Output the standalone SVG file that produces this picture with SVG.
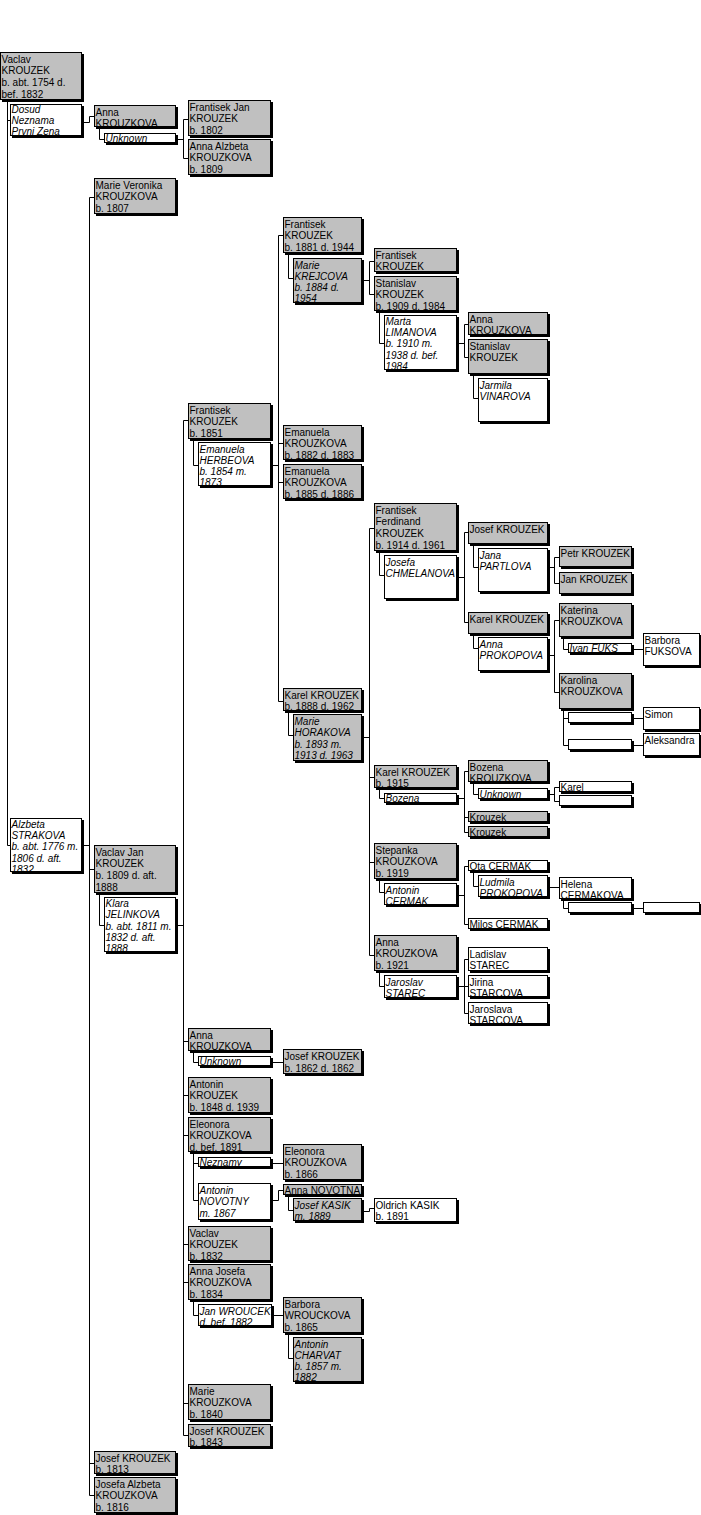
<svg xmlns="http://www.w3.org/2000/svg" width="701" height="1515" viewBox="0 0 701 1515">
<style>
rect.s{fill:#000}
rect.b{stroke:#000;stroke-width:1}
.g rect.b{fill:#c0c0c0}
.w rect.b{fill:#fff}
text{font-family:"Liberation Sans",Arial,sans-serif;font-size:10px;fill:#000}
.i text{font-style:italic}
.c{stroke:#000;stroke-width:1;fill:none}
</style>
<rect x="0" y="0" width="701" height="1515" fill="#fff"/>
<g id="connectors" class="c">
<path d="M7.5 100V845.5H10M7.5 120.5H10M83 122.5H89.5V116.5H94M99.5 128V139.5H104M177 139.5H183.5M183.5 119.5V158.5M183.5 119.5H188M183.5 158.5H188"/>
<path d="M83 845.5H89.5M89.5 197.5V1495.5M89.5 197.5H94M89.5 869.5H94M89.5 1463.5H94M89.5 1495.5H94M99.5 895V925.5H104"/>
<path d="M177 925.5H183.5M183.5 420.5V1435.5M183.5 420.5H188M183.5 1041.5H188M183.5 1095.5H188M183.5 1135.5H188M183.5 1244.5H188M183.5 1282.5H188M183.5 1403.5H188M183.5 1435.5H188"/>
<path d="M193.5 440V465.5H198M272 465.5H278.5M278.5 235.5V701.5M278.5 235.5H283M278.5 443.5H283M278.5 482.5H283M278.5 701.5H283"/>
<path d="M288.5 254V278.5H293M363 280.5H369.5M369.5 261.5V294.5M369.5 261.5H374M369.5 294.5H374M379.5 312V343.5H384M458 343.5H464.5M464.5 324.5V357.5M464.5 324.5H468M464.5 357.5H468M473.5 375V398.5H478"/>
<path d="M288.5 712V735.5H293M363 737.5H369.5M369.5 528.5V955.5M369.5 528.5H374M369.5 777.5H374M369.5 862.5H374M369.5 955.5H374"/>
<path d="M379.5 552V575.5H384M458 577.5H464.5M464.5 532.5V622.5M464.5 532.5H468M464.5 622.5H468M473.5 545V567.5H478M548 567.5H554.5M554.5 557.5V583.5M554.5 557.5H559M554.5 583.5H559"/>
<path d="M473.5 635V648.5H478M548 655.5H554.5M554.5 620.5V692.5M554.5 620.5H559M554.5 692.5H559M563.5 638V649.5H568M632 649.5H643M563.5 710V745.5M563.5 718.5H568M563.5 745.5H568M632 718.5H643M632 745.5H643"/>
<path d="M379.5 790V798.5H384M458 798.5H464.5M464.5 771.5V832.5M464.5 771.5H468M464.5 817.5H468M464.5 832.5H468M473.5 783V794.5H478M548 794.5H554.5M554.5 787.5V801.5M554.5 787.5H559M554.5 801.5H559"/>
<path d="M379.5 881V892.5H384M458 895.5H464.5M464.5 866.5V924.5M464.5 866.5H468M464.5 924.5H468M473.5 872V886.5H478M548 887.5H559M563.5 900V908.5H568M632 908.5H643"/>
<path d="M379.5 973V986.5H384M458 986.5H464.5M464.5 959.5V1013.5M464.5 959.5H468M464.5 986.5H468M464.5 1013.5H468"/>
<path d="M193.5 1053V1062.5H198M272 1062.5H283M193.5 1154V1200.5M193.5 1163.5H198M193.5 1200.5H198M272 1163.5H283M272 1200.5H278.5V1190.5H283M288.5 1197V1210.5H293M363 1211.5H369.5V1208.5H374"/>
<path d="M193.5 1302V1315.5H198M272 1315.5H283M288.5 1335V1358.5H293"/>
</g>
<g id="n1" class="g"><rect class="s" x="2" y="54" width="82" height="48"/><rect class="b" x="0.5" y="52.5" width="81" height="47"/><text x="1.5" y="62.5">Vaclav<tspan x="1.5" dy="11.7">KROUZEK</tspan><tspan x="1.5" dy="11.7">b. abt. 1754 d.</tspan><tspan x="1.5" dy="11.7">bef. 1832</tspan></text></g>
<g id="n2" class="w i"><rect class="s" x="12" y="106" width="72" height="32"/><rect class="b" x="10.5" y="104.5" width="71" height="31"/><text x="11.5" y="112.5">Dosud<tspan x="11.5" dy="11.3">Neznama</tspan><tspan x="11.5" dy="11.3">Prvni Zena</tspan></text></g>
<g id="n3" class="g"><rect class="s" x="96" y="107" width="82" height="22"/><rect class="b" x="94.5" y="105.5" width="81" height="21"/><text x="95.5" y="115.5">Anna<tspan x="95.5" dy="11.7">KROUZKOVA</tspan></text></g>
<g id="n4" class="w i"><rect class="s" x="106" y="135" width="72" height="10"/><rect class="b" x="104.5" y="133.5" width="71" height="9"/><text x="105.5" y="142">Unknown</text></g>
<g id="n5" class="g"><rect class="s" x="190" y="102" width="83" height="36"/><rect class="b" x="188.5" y="100.5" width="82" height="35"/><text x="189.5" y="110.5">Frantisek Jan<tspan x="189.5" dy="11.7">KROUZEK</tspan><tspan x="189.5" dy="11.7">b. 1802</tspan></text></g>
<g id="n6" class="g"><rect class="s" x="190" y="141" width="83" height="36"/><rect class="b" x="188.5" y="139.5" width="82" height="35"/><text x="189.5" y="149.5">Anna Alzbeta<tspan x="189.5" dy="11.7">KROUZKOVA</tspan><tspan x="189.5" dy="11.7">b. 1809</tspan></text></g>
<g id="n7" class="g"><rect class="s" x="96" y="180" width="82" height="36"/><rect class="b" x="94.5" y="178.5" width="81" height="35"/><text x="95.5" y="188.5">Marie Veronika<tspan x="95.5" dy="11.7">KROUZKOVA</tspan><tspan x="95.5" dy="11.7">b. 1807</tspan></text></g>
<g id="n8" class="w i"><rect class="s" x="12" y="820" width="72" height="54"/><rect class="b" x="10.5" y="818.5" width="71" height="53"/><text x="11.5" y="828">Alzbeta<tspan x="11.5" dy="11.2">STRAKOVA</tspan><tspan x="11.5" dy="11.2">b. abt. 1776 m.</tspan><tspan x="11.5" dy="11.2">1806 d. aft.</tspan><tspan x="11.5" dy="11.2">1832</tspan></text></g>
<g id="n9" class="g"><rect class="s" x="96" y="847" width="82" height="48"/><rect class="b" x="94.5" y="845.5" width="81" height="47"/><text x="95.5" y="855.5">Vaclav Jan<tspan x="95.5" dy="11.7">KROUZEK</tspan><tspan x="95.5" dy="11.7">b. 1809 d. aft.</tspan><tspan x="95.5" dy="11.7">1888</tspan></text></g>
<g id="n10" class="w i"><rect class="s" x="106" y="899" width="72" height="55"/><rect class="b" x="104.5" y="897.5" width="71" height="54"/><text x="105.5" y="907">Klara<tspan x="105.5" dy="11.3">JELINKOVA</tspan><tspan x="105.5" dy="11.3">b. abt. 1811 m.</tspan><tspan x="105.5" dy="11.3">1832 d. aft.</tspan><tspan x="105.5" dy="11.3">1888</tspan></text></g>
<g id="n11" class="g"><rect class="s" x="96" y="1453" width="82" height="23"/><rect class="b" x="94.5" y="1451.5" width="81" height="22"/><text x="95.5" y="1461.5">Josef KROUZEK<tspan x="95.5" dy="11.7">b. 1813</tspan></text></g>
<g id="n12" class="g"><rect class="s" x="96" y="1479" width="82" height="36"/><rect class="b" x="94.5" y="1477.5" width="81" height="35"/><text x="95.5" y="1487.5">Josefa Alzbeta<tspan x="95.5" dy="11.7">KROUZKOVA</tspan><tspan x="95.5" dy="11.7">b. 1816</tspan></text></g>
<g id="n13" class="g"><rect class="s" x="190" y="405" width="83" height="36"/><rect class="b" x="188.5" y="403.5" width="82" height="35"/><text x="189.5" y="413.5">Frantisek<tspan x="189.5" dy="11.7">KROUZEK</tspan><tspan x="189.5" dy="11.7">b. 1851</tspan></text></g>
<g id="n14" class="w i"><rect class="s" x="200" y="444" width="73" height="44"/><rect class="b" x="198.5" y="442.5" width="72" height="43"/><text x="199.5" y="452.5">Emanuela<tspan x="199.5" dy="11.3">HERBEOVA</tspan><tspan x="199.5" dy="11.3">b. 1854 m.</tspan><tspan x="199.5" dy="11.3">1873</tspan></text></g>
<g id="n15" class="g"><rect class="s" x="190" y="1030" width="83" height="23"/><rect class="b" x="188.5" y="1028.5" width="82" height="22"/><text x="189.5" y="1038.5">Anna<tspan x="189.5" dy="11.7">KROUZKOVA</tspan></text></g>
<g id="n16" class="w i"><rect class="s" x="200" y="1058" width="73" height="10"/><rect class="b" x="198.5" y="1056.5" width="72" height="9"/><text x="199.5" y="1065">Unknown</text></g>
<g id="n17" class="g"><rect class="s" x="190" y="1079" width="83" height="36"/><rect class="b" x="188.5" y="1077.5" width="82" height="35"/><text x="189.5" y="1087.5">Antonin<tspan x="189.5" dy="11.7">KROUZEK</tspan><tspan x="189.5" dy="11.7">b. 1848 d. 1939</tspan></text></g>
<g id="n18" class="g"><rect class="s" x="190" y="1119" width="83" height="35"/><rect class="b" x="188.5" y="1117.5" width="82" height="34"/><text x="189.5" y="1127.5">Eleonora<tspan x="189.5" dy="11.7">KROUZKOVA</tspan><tspan x="189.5" dy="11.7">d. bef. 1891</tspan></text></g>
<g id="n19" class="w i"><rect class="s" x="200" y="1159" width="73" height="10"/><rect class="b" x="198.5" y="1157.5" width="72" height="9"/><text x="199.5" y="1166">Neznamy</text></g>
<g id="n20" class="w i"><rect class="s" x="200" y="1185" width="73" height="37"/><rect class="b" x="198.5" y="1183.5" width="72" height="36"/><text x="199.5" y="1193.5">Antonin<tspan x="199.5" dy="11.7">NOVOTNY</tspan><tspan x="199.5" dy="11.7">m. 1867</tspan></text></g>
<g id="n21" class="g"><rect class="s" x="190" y="1228" width="83" height="35"/><rect class="b" x="188.5" y="1226.5" width="82" height="34"/><text x="189.5" y="1236.5">Vaclav<tspan x="189.5" dy="11.7">KROUZEK</tspan><tspan x="189.5" dy="11.7">b. 1832</tspan></text></g>
<g id="n22" class="g"><rect class="s" x="190" y="1266" width="83" height="36"/><rect class="b" x="188.5" y="1264.5" width="82" height="35"/><text x="189.5" y="1274.5">Anna Josefa<tspan x="189.5" dy="11.7">KROUZKOVA</tspan><tspan x="189.5" dy="11.7">b. 1834</tspan></text></g>
<g id="n23" class="w i"><rect class="s" x="200" y="1306" width="74" height="22"/><rect class="b" x="198.5" y="1304.5" width="73" height="21"/><text x="199.5" y="1314.5">Jan WROUCEK<tspan x="199.5" dy="11.7">d. bef. 1882</tspan></text></g>
<g id="n24" class="g"><rect class="s" x="190" y="1386" width="83" height="36"/><rect class="b" x="188.5" y="1384.5" width="82" height="35"/><text x="189.5" y="1394.5">Marie<tspan x="189.5" dy="11.7">KROUZKOVA</tspan><tspan x="189.5" dy="11.7">b. 1840</tspan></text></g>
<g id="n25" class="g"><rect class="s" x="190" y="1426" width="83" height="23"/><rect class="b" x="188.5" y="1424.5" width="82" height="22"/><text x="189.5" y="1434.5">Josef KROUZEK<tspan x="189.5" dy="11.7">b. 1843</tspan></text></g>
<g id="n26" class="g"><rect class="s" x="285" y="219" width="79" height="36"/><rect class="b" x="283.5" y="217.5" width="78" height="35"/><text x="284.5" y="227.5">Frantisek<tspan x="284.5" dy="11.7">KROUZEK</tspan><tspan x="284.5" dy="11.7">b. 1881 d. 1944</tspan></text></g>
<g id="n27" class="g i"><rect class="s" x="295" y="260" width="69" height="45"/><rect class="b" x="293.5" y="258.5" width="68" height="44"/><text x="294.5" y="268.5">Marie<tspan x="294.5" dy="11.3">KREJCOVA</tspan><tspan x="294.5" dy="11.3">b. 1884 d.</tspan><tspan x="294.5" dy="11.3">1954</tspan></text></g>
<g id="n28" class="g"><rect class="s" x="285" y="427" width="79" height="35"/><rect class="b" x="283.5" y="425.5" width="78" height="34"/><text x="284.5" y="435.5">Emanuela<tspan x="284.5" dy="11.7">KROUZKOVA</tspan><tspan x="284.5" dy="11.7">b. 1882 d. 1883</tspan></text></g>
<g id="n29" class="g"><rect class="s" x="285" y="466" width="79" height="35"/><rect class="b" x="283.5" y="464.5" width="78" height="34"/><text x="284.5" y="474.5">Emanuela<tspan x="284.5" dy="11.7">KROUZKOVA</tspan><tspan x="284.5" dy="11.7">b. 1885 d. 1886</tspan></text></g>
<g id="n30" class="g"><rect class="s" x="285" y="690" width="79" height="23"/><rect class="b" x="283.5" y="688.5" width="78" height="22"/><text x="284.5" y="698.5">Karel KROUZEK<tspan x="284.5" dy="11.7">b. 1888 d. 1962</tspan></text></g>
<g id="n31" class="g i"><rect class="s" x="295" y="716" width="69" height="47"/><rect class="b" x="293.5" y="714.5" width="68" height="46"/><text x="294.5" y="724.5">Marie<tspan x="294.5" dy="11.5">HORAKOVA</tspan><tspan x="294.5" dy="11.5">b. 1893 m.</tspan><tspan x="294.5" dy="11.5">1913 d. 1963</tspan></text></g>
<g id="n32" class="g"><rect class="s" x="285" y="1051" width="79" height="25"/><rect class="b" x="283.5" y="1049.5" width="78" height="24"/><text x="284.5" y="1060">Josef KROUZEK<tspan x="284.5" dy="11.7">b. 1862 d. 1862</tspan></text></g>
<g id="n33" class="g"><rect class="s" x="285" y="1146" width="79" height="36"/><rect class="b" x="283.5" y="1144.5" width="78" height="35"/><text x="284.5" y="1154.5">Eleonora<tspan x="284.5" dy="11.7">KROUZKOVA</tspan><tspan x="284.5" dy="11.7">b. 1866</tspan></text></g>
<g id="n34" class="g"><rect class="s" x="285" y="1186" width="79" height="11"/><rect class="b" x="283.5" y="1184.5" width="78" height="10"/><text x="284.5" y="1193.5">Anna NOVOTNA</text></g>
<g id="n35" class="g i"><rect class="s" x="295" y="1200" width="69" height="23"/><rect class="b" x="293.5" y="1198.5" width="68" height="22"/><text x="294.5" y="1208.5">Josef KASIK<tspan x="294.5" dy="11.7">m. 1889</tspan></text></g>
<g id="n36" class="g"><rect class="s" x="285" y="1299" width="79" height="36"/><rect class="b" x="283.5" y="1297.5" width="78" height="35"/><text x="284.5" y="1307.5">Barbora<tspan x="284.5" dy="11.7">WROUCKOVA</tspan><tspan x="284.5" dy="11.7">b. 1865</tspan></text></g>
<g id="n37" class="g i"><rect class="s" x="295" y="1339" width="69" height="45"/><rect class="b" x="293.5" y="1337.5" width="68" height="44"/><text x="294.5" y="1347.5">Antonin<tspan x="294.5" dy="11.3">CHARVAT</tspan><tspan x="294.5" dy="11.3">b. 1857 m.</tspan><tspan x="294.5" dy="11.3">1882</tspan></text></g>
<g id="n38" class="g"><rect class="s" x="376" y="250" width="83" height="24"/><rect class="b" x="374.5" y="248.5" width="82" height="23"/><text x="375.5" y="258.5">Frantisek<tspan x="375.5" dy="11.7">KROUZEK</tspan></text></g>
<g id="n39" class="g"><rect class="s" x="376" y="278" width="83" height="35"/><rect class="b" x="374.5" y="276.5" width="82" height="34"/><text x="375.5" y="286.5">Stanislav<tspan x="375.5" dy="11.7">KROUZEK</tspan><tspan x="375.5" dy="11.7">b. 1909 d. 1984</tspan></text></g>
<g id="n40" class="w i"><rect class="s" x="386" y="317" width="73" height="55"/><rect class="b" x="384.5" y="315.5" width="72" height="54"/><text x="385.5" y="325">Marta<tspan x="385.5" dy="11.2">LIMANOVA</tspan><tspan x="385.5" dy="11.2">b. 1910 m.</tspan><tspan x="385.5" dy="11.2">1938 d. bef.</tspan><tspan x="385.5" dy="11.2">1984</tspan></text></g>
<g id="n41" class="g"><rect class="s" x="376" y="505" width="83" height="48"/><rect class="b" x="374.5" y="503.5" width="82" height="47"/><text x="375.5" y="513.5">Frantisek<tspan x="375.5" dy="11.7">Ferdinand</tspan><tspan x="375.5" dy="11.7">KROUZEK</tspan><tspan x="375.5" dy="11.7">b. 1914 d. 1961</tspan></text></g>
<g id="n42" class="w i"><rect class="s" x="386" y="557" width="73" height="44"/><rect class="b" x="384.5" y="555.5" width="72" height="43"/><text x="385.5" y="565.5">Josefa<tspan x="385.5" dy="11.7">CHMELANOVA</tspan></text></g>
<g id="n43" class="g"><rect class="s" x="376" y="767" width="83" height="23"/><rect class="b" x="374.5" y="765.5" width="82" height="22"/><text x="375.5" y="775.5">Karel KROUZEK<tspan x="375.5" dy="11.7">b. 1915</tspan></text></g>
<g id="n44" class="w i"><rect class="s" x="386" y="795" width="73" height="10"/><rect class="b" x="384.5" y="793.5" width="72" height="9"/><text x="385.5" y="802">Bozena</text></g>
<g id="n45" class="g"><rect class="s" x="376" y="845" width="83" height="36"/><rect class="b" x="374.5" y="843.5" width="82" height="35"/><text x="375.5" y="853.5">Stepanka<tspan x="375.5" dy="11.7">KROUZKOVA</tspan><tspan x="375.5" dy="11.7">b. 1919</tspan></text></g>
<g id="n46" class="w i"><rect class="s" x="386" y="885" width="73" height="22"/><rect class="b" x="384.5" y="883.5" width="72" height="21"/><text x="385.5" y="893.5">Antonin<tspan x="385.5" dy="11.7">CERMAK</tspan></text></g>
<g id="n47" class="g"><rect class="s" x="376" y="937" width="83" height="36"/><rect class="b" x="374.5" y="935.5" width="82" height="35"/><text x="375.5" y="945.5">Anna<tspan x="375.5" dy="11.7">KROUZKOVA</tspan><tspan x="375.5" dy="11.7">b. 1921</tspan></text></g>
<g id="n48" class="w i"><rect class="s" x="386" y="977" width="73" height="23"/><rect class="b" x="384.5" y="975.5" width="72" height="22"/><text x="385.5" y="985.5">Jaroslav<tspan x="385.5" dy="11.7">STAREC</tspan></text></g>
<g id="n49" class="w"><rect class="s" x="376" y="1200" width="83" height="24"/><rect class="b" x="374.5" y="1198.5" width="82" height="23"/><text x="375.5" y="1208.5">Oldrich KASIK<tspan x="375.5" dy="11.7">b. 1891</tspan></text></g>
<g id="n50" class="g"><rect class="s" x="470" y="314" width="80" height="23"/><rect class="b" x="468.5" y="312.5" width="79" height="22"/><text x="469.5" y="322.5">Anna<tspan x="469.5" dy="11.7">KROUZKOVA</tspan></text></g>
<g id="n51" class="g"><rect class="s" x="470" y="341" width="80" height="35"/><rect class="b" x="468.5" y="339.5" width="79" height="34"/><text x="469.5" y="349.5">Stanislav<tspan x="469.5" dy="11.7">KROUZEK</tspan></text></g>
<g id="n52" class="w i"><rect class="s" x="480" y="380" width="70" height="44"/><rect class="b" x="478.5" y="378.5" width="69" height="43"/><text x="479.5" y="388.5">Jarmila<tspan x="479.5" dy="11.7">VINAROVA</tspan></text></g>
<g id="n53" class="g"><rect class="s" x="470" y="524" width="80" height="22"/><rect class="b" x="468.5" y="522.5" width="79" height="21"/><text x="469.5" y="532.5">Josef KROUZEK</text></g>
<g id="n54" class="w i"><rect class="s" x="480" y="550" width="70" height="44"/><rect class="b" x="478.5" y="548.5" width="69" height="43"/><text x="479.5" y="558.5">Jana<tspan x="479.5" dy="11.7">PARTLOVA</tspan></text></g>
<g id="n55" class="g"><rect class="s" x="470" y="614" width="80" height="22"/><rect class="b" x="468.5" y="612.5" width="79" height="21"/><text x="469.5" y="622.5">Karel KROUZEK</text></g>
<g id="n56" class="w i"><rect class="s" x="480" y="639" width="70" height="34"/><rect class="b" x="478.5" y="637.5" width="69" height="33"/><text x="479.5" y="647.5">Anna<tspan x="479.5" dy="11.7">PROKOPOVA</tspan></text></g>
<g id="n57" class="g"><rect class="s" x="470" y="762" width="80" height="22"/><rect class="b" x="468.5" y="760.5" width="79" height="21"/><text x="469.5" y="770.5">Bozena<tspan x="469.5" dy="11.7">KROUZKOVA</tspan></text></g>
<g id="n58" class="w i"><rect class="s" x="480" y="790" width="70" height="11"/><rect class="b" x="478.5" y="788.5" width="69" height="10"/><text x="479.5" y="797.5">Unknown</text></g>
<g id="n59" class="g"><rect class="s" x="470" y="813" width="80" height="11"/><rect class="b" x="468.5" y="811.5" width="79" height="10"/><text x="469.5" y="820.5">Krouzek</text></g>
<g id="n60" class="g"><rect class="s" x="470" y="828" width="80" height="11"/><rect class="b" x="468.5" y="826.5" width="79" height="10"/><text x="469.5" y="835.5">Krouzek</text></g>
<g id="n61" class="w"><rect class="s" x="470" y="862" width="80" height="11"/><rect class="b" x="468.5" y="860.5" width="79" height="10"/><text x="469.5" y="869.5">Ota CERMAK</text></g>
<g id="n62" class="w i"><rect class="s" x="480" y="877" width="70" height="22"/><rect class="b" x="478.5" y="875.5" width="69" height="21"/><text x="479.5" y="885.5">Ludmila<tspan x="479.5" dy="11.7">PROKOPOVA</tspan></text></g>
<g id="n63" class="w"><rect class="s" x="470" y="920" width="80" height="11"/><rect class="b" x="468.5" y="918.5" width="79" height="10"/><text x="469.5" y="927.5">Milos CERMAK</text></g>
<g id="n64" class="w"><rect class="s" x="470" y="949" width="80" height="24"/><rect class="b" x="468.5" y="947.5" width="79" height="23"/><text x="469.5" y="957.5">Ladislav<tspan x="469.5" dy="11.7">STAREC</tspan></text></g>
<g id="n65" class="w"><rect class="s" x="470" y="977" width="80" height="22"/><rect class="b" x="468.5" y="975.5" width="79" height="21"/><text x="469.5" y="985.5">Jirina<tspan x="469.5" dy="11.7">STARCOVA</tspan></text></g>
<g id="n66" class="w"><rect class="s" x="470" y="1004" width="80" height="22"/><rect class="b" x="468.5" y="1002.5" width="79" height="21"/><text x="469.5" y="1012.5">Jaroslava<tspan x="469.5" dy="11.7">STARCOVA</tspan></text></g>
<g id="n67" class="g"><rect class="s" x="561" y="548" width="73" height="21"/><rect class="b" x="559.5" y="546.5" width="72" height="20"/><text x="560.5" y="556.5">Petr KROUZEK</text></g>
<g id="n68" class="g"><rect class="s" x="561" y="574" width="73" height="22"/><rect class="b" x="559.5" y="572.5" width="72" height="21"/><text x="560.5" y="582.5">Jan KROUZEK</text></g>
<g id="n69" class="g"><rect class="s" x="561" y="605" width="73" height="34"/><rect class="b" x="559.5" y="603.5" width="72" height="33"/><text x="560.5" y="613.5">Katerina<tspan x="560.5" dy="11.7">KROUZKOVA</tspan></text></g>
<g id="n70" class="w i"><rect class="s" x="570" y="645" width="64" height="10"/><rect class="b" x="568.5" y="643.5" width="63" height="9"/><text x="569.5" y="652">Ivan FUKS</text></g>
<g id="n71" class="g"><rect class="s" x="561" y="675" width="73" height="36"/><rect class="b" x="559.5" y="673.5" width="72" height="35"/><text x="560.5" y="683.5">Karolina<tspan x="560.5" dy="11.7">KROUZKOVA</tspan></text></g>
<g id="n72" class="w"><rect class="s" x="570" y="714" width="64" height="11"/><rect class="b" x="568.5" y="712.5" width="63" height="10"/></g>
<g id="n73" class="w"><rect class="s" x="570" y="741" width="64" height="11"/><rect class="b" x="568.5" y="739.5" width="63" height="10"/></g>
<g id="n74" class="w"><rect class="s" x="561" y="783" width="73" height="11"/><rect class="b" x="559.5" y="781.5" width="72" height="10"/><text x="560.5" y="790.5">Karel</text></g>
<g id="n75" class="w"><rect class="s" x="561" y="797" width="73" height="11"/><rect class="b" x="559.5" y="795.5" width="72" height="10"/></g>
<g id="n76" class="w"><rect class="s" x="561" y="879" width="73" height="22"/><rect class="b" x="559.5" y="877.5" width="72" height="21"/><text x="560.5" y="887.5">Helena<tspan x="560.5" dy="11.7">CERMAKOVA</tspan></text></g>
<g id="n77" class="w"><rect class="s" x="570" y="904" width="64" height="11"/><rect class="b" x="568.5" y="902.5" width="63" height="10"/></g>
<g id="n78" class="w"><rect class="s" x="645" y="635" width="57" height="33"/><rect class="b" x="643.5" y="633.5" width="56" height="32"/><text x="644.5" y="643.5">Barbora<tspan x="644.5" dy="11.7">FUKSOVA</tspan></text></g>
<g id="n79" class="w"><rect class="s" x="645" y="709" width="57" height="23"/><rect class="b" x="643.5" y="707.5" width="56" height="22"/><text x="644.5" y="717.5">Simon</text></g>
<g id="n80" class="w"><rect class="s" x="645" y="735" width="57" height="23"/><rect class="b" x="643.5" y="733.5" width="56" height="22"/><text x="644.5" y="743.5">Aleksandra</text></g>
<g id="n81" class="w"><rect class="s" x="645" y="904" width="57" height="11"/><rect class="b" x="643.5" y="902.5" width="56" height="10"/></g>
</svg>
